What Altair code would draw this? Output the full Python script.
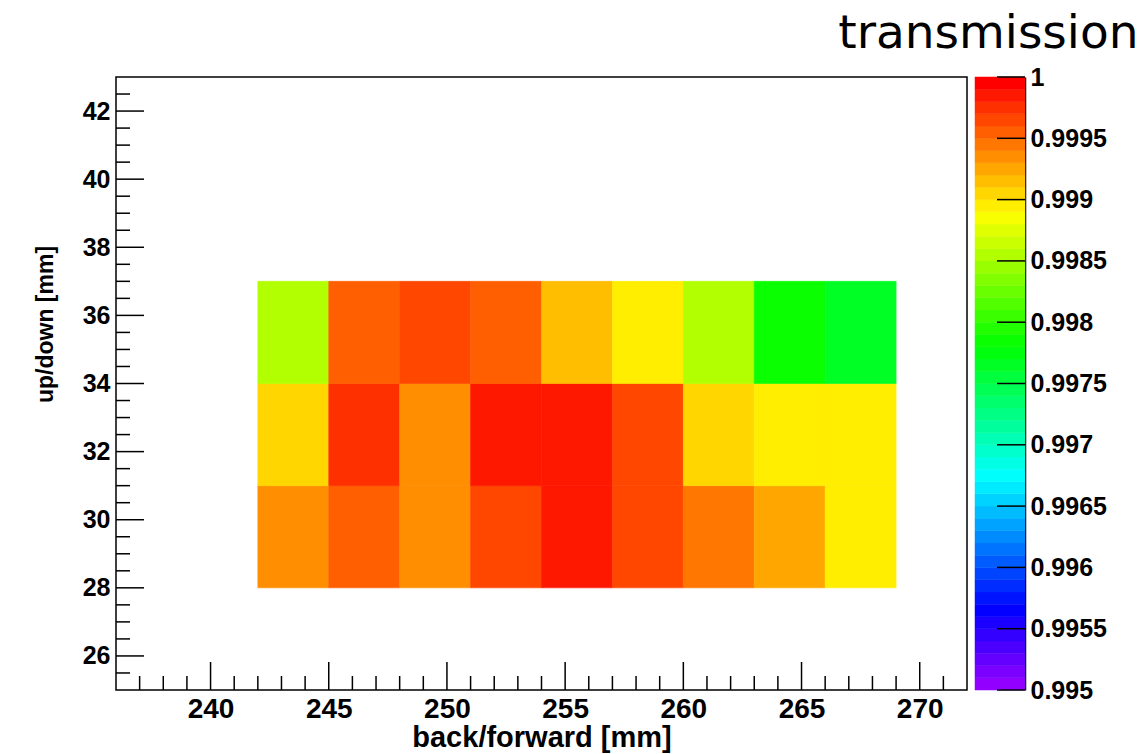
import colorsys
import altair as alt
import pandas as pd

# ---- data ----
x_lo = [242, 245, 248, 251, 254, 257, 260, 263, 266]
bin_w = 3
y_lo = [28, 31, 34]
trans_y28 = [0.99935, 0.99955, 0.99935, 0.99965, 0.99985, 0.99965, 0.99945, 0.99925, 0.99895]
trans_y31 = [0.99905, 0.99975, 0.99935, 0.99985, 0.99985, 0.99965, 0.99905, 0.99895, 0.99895]
trans_y34 = [0.99855, 0.99955, 0.99965, 0.99955, 0.99915, 0.99895, 0.99855, 0.99785, 0.99765]

x_major = [240, 245, 250, 255, 260, 265, 270]
x_minor = [237, 238, 239, 241, 242, 243, 244, 246, 247, 248, 249, 251, 252, 253, 254,
           256, 257, 258, 259, 261, 262, 263, 264, 266, 267, 268, 269, 271]
y_major = [26, 28, 30, 32, 34, 36, 38, 40, 42]
y_minor = [25.5, 26.5, 27, 27.5, 28.5, 29, 29.5, 30.5, 31, 31.5, 32.5, 33, 33.5,
           34.5, 35, 35.5, 36.5, 37, 37.5, 38.5, 39, 39.5, 40.5, 41, 41.5, 42.5]
z_ticks = [0.995, 0.9955, 0.996, 0.9965, 0.997, 0.9975, 0.998, 0.9985, 0.999, 0.9995, 1.0]
z_min, z_max = 0.995, 1.0
n_colors = 50

# ---- ROOT "pretty" palette (50 colours, HLS with L=0.5, S=1) ----
palette = []
for i in range(n_colors):
    hue = 280 - (i + 1) * (280.0 / n_colors)
    r, g, b = colorsys.hls_to_rgb(hue / 360.0, 0.5, 1.0)
    palette.append("#%02x%02x%02x" % (round(r * 255), round(g * 255), round(b * 255)))

rows = []
for yl, vals in zip(y_lo, [trans_y28, trans_y31, trans_y34]):
    for xl, v in zip(x_lo, vals):
        rows.append({"x": xl, "x2": xl + bin_w, "y": yl, "y2": yl + bin_w, "t": v})
cells = pd.DataFrame(rows)

step = (z_max - z_min) / n_colors
bands = pd.DataFrame({
    "lo": [z_min + i * step for i in range(n_colors)],
    "hi": [z_min + (i + 1) * step for i in range(n_colors)],
    "mid": [z_min + (i + 0.5) * step for i in range(n_colors)],
})

FONT = "Liberation Sans"
W, H = 851, 613
CB_W = 50
MAJ, MIN = 28, 14

color_scale = alt.Scale(type="quantize", domain=[z_min, z_max], range=palette)
xs = alt.Scale(domain=[236, 272], nice=False, zero=False)
ys = alt.Scale(domain=[25, 43], nice=False, zero=False)
zs = alt.Scale(domain=[z_min, z_max], nice=False, zero=False)

x_axis = alt.Axis(
    values=x_major, ticks=False, domain=False, grid=False,
    title="back/forward [mm]", labelFont=FONT, labelFontSize=28, labelFontWeight="bold",
    labelColor="black", labelPadding=5, labelFlush=False,
    titleFont=FONT, titleFontSize=29, titleFontWeight="bold", titleColor="black",
    titlePadding=0)
y_axis = alt.Axis(
    values=y_major, ticks=False, domain=False, grid=False,
    title="up/down [mm]", labelFont=FONT, labelFontSize=25, labelFontWeight="bold",
    labelColor="black", labelPadding=6,
    titleFont=FONT, titleFontSize=23, titleFontWeight="bold", titleColor="black",
    titleX=-71, titleY=247, titleBaseline="middle", titleAlign="center", titleAngle=270)
z_axis = alt.Axis(
    orient="right", values=z_ticks, format="~g", ticks=False,
    domain=True, domainColor="black", domainWidth=1.5, grid=False, title=None,
    labelFont=FONT, labelFontSize=25, labelFontWeight="bold", labelColor="black",
    labelPadding=5, labelOverlap=False)

heat = alt.Chart(cells).mark_rect(strokeWidth=0.6).encode(
    x=alt.X("x:Q", scale=xs, axis=x_axis),
    x2="x2:Q",
    y=alt.Y("y:Q", scale=ys, axis=y_axis),
    y2="y2:Q",
    color=alt.Color("t:Q", scale=color_scale, legend=None),
    stroke=alt.Stroke("t:Q", scale=color_scale, legend=None),
)

def xticks(vals, length):
    return alt.Chart(pd.DataFrame({"v": vals})).mark_rule(color="black", strokeWidth=1.5).encode(
        x=alt.X("v:Q", scale=xs, axis=x_axis), y=alt.value(H), y2=alt.value(H - length))

def yticks(vals, length):
    return alt.Chart(pd.DataFrame({"v": vals})).mark_rule(color="black", strokeWidth=1.5).encode(
        y=alt.Y("v:Q", scale=ys, axis=y_axis), x=alt.value(0), x2=alt.value(length))

left = alt.layer(
    heat, xticks(x_major, MAJ), xticks(x_minor, MIN), yticks(y_major, MAJ), yticks(y_minor, MIN)
).properties(width=W, height=H, view=alt.ViewBackground(stroke="black", strokeWidth=1.5))

cb = alt.Chart(bands).mark_rect(strokeWidth=0.5).encode(
    y=alt.Y("lo:Q", scale=zs, axis=z_axis),
    y2="hi:Q",
    x=alt.value(0), x2=alt.value(CB_W),
    color=alt.Color("mid:Q", scale=color_scale, legend=None),
    stroke=alt.Stroke("mid:Q", scale=color_scale, legend=None),
)
cb_ticks = alt.Chart(pd.DataFrame({"v": z_ticks})).mark_rule(color="black", strokeWidth=1.5).encode(
    y=alt.Y("v:Q", scale=zs, axis=z_axis), x=alt.value(CB_W - MAJ), x2=alt.value(CB_W))
right = alt.layer(cb, cb_ticks).properties(
    width=CB_W, height=H, view=alt.ViewBackground(stroke=None))

chart = alt.hconcat(left, right, spacing=6).resolve_scale(y="independent").properties(
    title=alt.TitleParams("transmission", anchor="end", font="DejaVu Sans", fontSize=47,
                          fontWeight="normal", color="black", offset=7, dx=32),
    padding={"left": 33, "top": 10, "right": 0, "bottom": 0},
    background="white",
)

chart.save("out.html", embed_options={"renderer": "svg", "actions": False})
